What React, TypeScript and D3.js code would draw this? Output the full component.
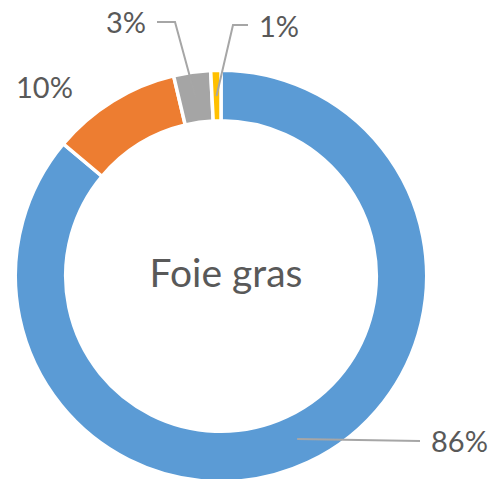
import React from "react";
import * as d3 from "d3";

// slice values (clockwise from 12 o'clock)
const categories = ["A", "B", "C", "D"];
const values = [86.1, 10.2, 2.9, 0.8];
const labels = ["86%", "10%", "3%", "1%"];
const colors = ["#5B9BD5", "#ED7D31", "#A5A5A5", "#FFC000"];
const centerTitle = "Foie gras";

const W = 491;
const H = 479;

// label placement: elbow point of leader (null = no leader) and text anchor point
const labelLayout = [
    { elbow: [420, 441], end: [420, 441], tx: 431, ty: 452, anchor: "start" },
    { elbow: null, end: null, tx: 16, ty: 98, anchor: "start" },
    { elbow: [175, 22], end: [157, 22], tx: 146, ty: 33, anchor: "end" },
    { elbow: [233, 25], end: [248, 25], tx: 259, ty: 37, anchor: "start" },
];

export default function App() {
    const cx = 221;
    const cy = 276;
    const outerR = 205.7;
    const innerR = 155.3;

    const pie = d3.pie<number>().sort(null).value(d => d);
    const arcs = pie(values);
    const arc = d3.arc<d3.PieArcDatum<number>>().innerRadius(innerR).outerRadius(outerR);
    const midArc = d3.arc<d3.PieArcDatum<number>>().innerRadius(180).outerRadius(180);

    return (
        <div style={{ position: "absolute", left: 0, top: 0 }}>
            <svg width={W} height={H} style={{ display: "block" }}>
                <rect width={W} height={H} fill="white" />
                <g transform={`translate(${cx},${cy})`}>
                    {arcs.map((a, i) => (
                        <path key={categories[i]} d={arc(a) || ""} fill={colors[i]} stroke="white" strokeWidth={3.5} />
                    ))}
                </g>
                {arcs.map((a, i) => {
                    const lay = labelLayout[i];
                    if (!lay.elbow) return null;
                    const [mx, my] = midArc.centroid(a);
                    const pts = [[mx + cx, my + cy], lay.elbow, lay.end];
                    return (
                        <polyline
                            key={"l" + i}
                            points={pts.map(p => p.join(",")).join(" ")}
                            fill="none"
                            stroke="#A6A6A6"
                            strokeWidth={2}
                        />
                    );
                })}
                {arcs.map((a, i) => {
                    const lay = labelLayout[i];
                    return (
                        <text
                            key={"t" + i}
                            x={lay.tx}
                            y={lay.ty}
                            textAnchor={lay.anchor}
                            fontFamily="Lato, sans-serif"
                            fontSize={29}
                            fill="#595959"
                        >
                            {labels[i]}
                        </text>
                    );
                })}
                <text
                    x={cx + 5}
                    y={287}
                    textAnchor="middle"
                    fontFamily="Lato, sans-serif"
                    fontSize={39}
                    fill="#595959"
                >
                    {centerTitle}
                </text>
            </svg>
        </div>
    );
}
